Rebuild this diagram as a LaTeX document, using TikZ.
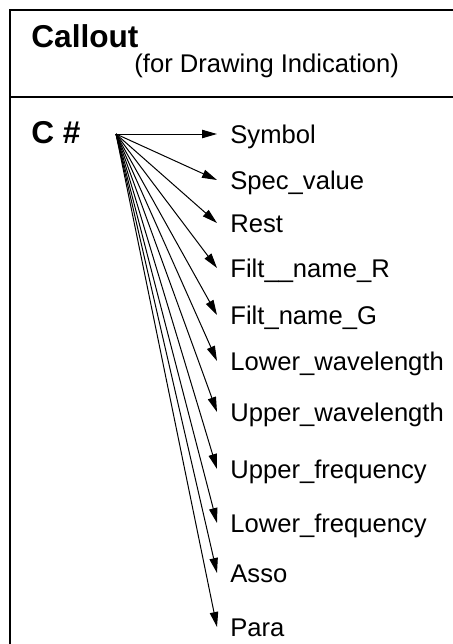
\documentclass[tikz,border=0pt]{standalone}
\usepackage{fontspec}
\setmainfont{Liberation Sans}
\usetikzlibrary{positioning, arrows.meta}

\begin{document}
\begin{tikzpicture}[
  x=0.5pt, y=-0.5pt,
  every node/.style={font=\fontsize{12.8}{15}\selectfont, inner sep=0pt},
  heading/.style={font=\fontsize{15.8}{18}\selectfont\bfseries, anchor=west},
  field/.style={anchor=west, inner xsep=6.5pt, text height=9.2pt, text depth=0pt},
  frame/.style={line width=1pt},
  arrow/.style={-{Triangle[length=7.5pt, width=4.2pt]}, line width=0.5pt}
]
\useasboundingbox (0,0) rectangle (453,644);

% frame of the table
\draw[frame] (10,644) -- (10,10) -- (453,10);
\draw[frame] (10,97) -- (453,97);

\node[heading] (callout) at (31, 36) {Callout};
\node[anchor=west] (sub) at (134, 66) {(for Drawing Indication)};

\node[heading] (cnum) at (31, 133) {C \#};
\coordinate (src) at (116, 134);

\node[field] (sym) at (217, 134) {Symbol};
\node[field] (spec) at (217, 180) {Spec\_value};
\node[field] (rest) at (217, 223) {Rest};
\node[field] (filtr) at (217, 268) {Filt\_\_name\_R};
\node[field] (filtg) at (217, 315) {Filt\_name\_G};
\node[field] (lowwave) at (217, 361) {Lower\_wavelength};
\node[field] (upwave) at (217, 412) {Upper\_wavelength};
\node[field] (upfreq) at (217, 469) {Upper\_frequency};
\node[field] (lowfreq) at (217, 523) {Lower\_frequency};
\node[field] (asso) at (217, 573) {Asso};
\node[field] (para) at (217, 627) {Para};

\draw[arrow] (src) -- (sym.west);
\draw[arrow] (src) -- (spec.west);
\draw[arrow] (src) -- (rest.west);
\draw[arrow] (src) -- (filtr.west);
\draw[arrow] (src) -- (filtg.west);
\draw[arrow] (src) -- (lowwave.west);
\draw[arrow] (src) -- (upwave.west);
\draw[arrow] (src) -- (upfreq.west);
\draw[arrow] (src) -- (lowfreq.west);
\draw[arrow] (src) -- (asso.west);
\draw[arrow] (src) -- (para.west);
\end{tikzpicture}
\end{document}
